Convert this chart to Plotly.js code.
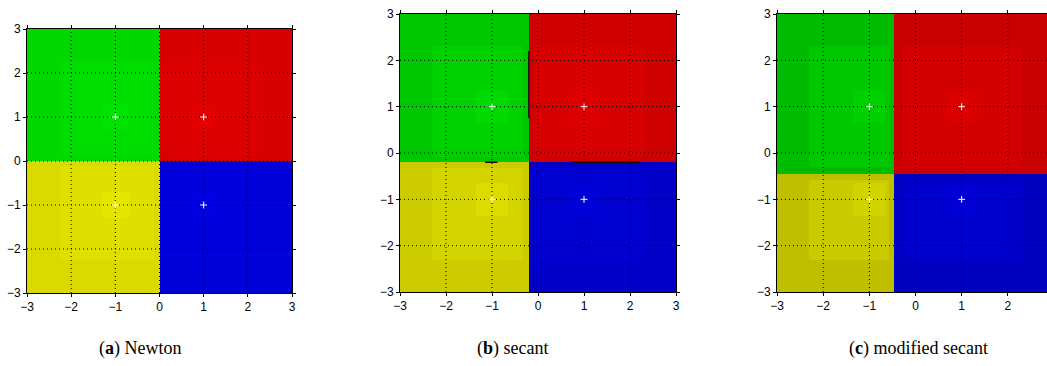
<!DOCTYPE html>
<html>
<head>
<meta charset="utf-8">
<script src="https://cdn.plot.ly/plotly-3.0.1.min.js"></script>
<style>
html,body{margin:0;padding:0;overflow:hidden;background:#fff;}
#chart{width:1060px;height:366px;}
</style>
</head>
<body>
<div id="chart"></div>
<script>
// ---------- data ----------
const methods = ['Newton', 'secant', 'modified secant'];
const panelLetters = ['a', 'b', 'c'];
const tickVals = [-3, -2, -1, 0, 1, 2, 3];
const tickTextFull = ['−3', '−2', '−1', '0', '1', '2', '3'];
const tickTextCut = ['−3', '−2', '−1', '0', '1', '2', ''];   // last label falls outside the picture
const boundaryX = [0, -0.2, -0.46];      // basin boundary (vertical) per method
const boundaryY = [0, -0.2, -0.46];      // basin boundary (horizontal) per method
const rootX = [1, -1, -1, 1];
const rootY = [1, 1, -1, -1];
const basinNames = ['red', 'green', 'yellow', 'blue'];
// shades per method per basin: [edge, mid, near root]
const shadesNewton   = [['#d80000','#dd0000','#e20000'], ['#00d800','#00dd00','#00e200'], ['#dada00','#e0e000','#e5e500'], ['#0000d8','#0000dd','#0000e2']];
const shadesSecant   = [['#cf0000','#d80000','#de0000'], ['#00c800','#00d200','#00da00'], ['#cbcb00','#d4d400','#dcdc00'], ['#0000c8','#0000d0','#0000d8']];
const shadesModified = [['#c80000','#d20000','#da0000'], ['#00bc00','#00c800','#00d000'], ['#bfbf00','#caca00','#d3d300'], ['#0000c0','#0000cb','#0000d4']];
const midHalf = [1.25, 1.3, 1.3];
const innerHalf = [0.3, 0.35, 0.35];
// non-converged segments (secant)
const failSegX = [[], [[-0.2, -0.2], [-1.15, -0.88], [0.75, 2.22]], []];
const failSegY = [[], [[0.75, 2.2], [-0.2, -0.2], [-0.2, -0.2]], []];

// ---------- layout geometry ----------
const W = 1060, H = 366;
const boxes = [[27, 292, 29, 293], [400, 676, 14, 292], [777, 1054, 14, 292]];
const allShades = [shadesNewton, shadesSecant, shadesModified];

function clip(r, q) {
  return [Math.max(r[0], q[0]), Math.min(r[1], q[1]), Math.max(r[2], q[2]), Math.min(r[3], q[3])];
}

const traces = [];
const layout = {
  width: W, height: H,
  margin: {l: 0, r: 0, t: 0, b: 0},
  paper_bgcolor: '#fff', plot_bgcolor: '#fff',
  showlegend: false,
  annotations: []
};

for (let p = 0; p < 3; p++) {
  const bx = boundaryX[p], by = boundaryY[p];
  const quads = [[bx, 3, by, 3], [-3, bx, by, 3], [-3, bx, -3, by], [bx, 3, -3, by]];
  const rects = [];
  const sh = allShades[p];
  for (let k = 0; k < 4; k++) rects.push([...quads[k], sh[k][0]]);
  for (let k = 0; k < 4; k++) {
    const m = midHalf[p];
    const r = clip([rootX[k] - m, rootX[k] + m, rootY[k] - m, rootY[k] + m], quads[k]);
    const q = quads[k];
    const inset = 0.12;
    const rr = [r[0] === q[0] && q[0] !== -3 ? r[0] + inset : r[0], r[1] === q[1] && q[1] !== 3 ? r[1] - inset : r[1],
                r[2] === q[2] && q[2] !== -3 ? r[2] + inset : r[2], r[3] === q[3] && q[3] !== 3 ? r[3] - inset : r[3]];
    rects.push([...rr, sh[k][1]]);
  }
  for (let k = 0; k < 4; k++) {
    const m = innerHalf[p];
    const r = clip([rootX[k] - m, rootX[k] + m, rootY[k] - m, rootY[k] + m], quads[k]);
    rects.push([...r, sh[k][2]]);
  }
  const xs = [...new Set(rects.flatMap(r => [r[0], r[1]]))].sort((a, b) => a - b);
  const ys = [...new Set(rects.flatMap(r => [r[2], r[3]]))].sort((a, b) => a - b);
  const colors = [...new Set(rects.map(r => r[4]))];
  const z = [];
  for (let j = 0; j < ys.length - 1; j++) {
    const row = [];
    const cy = (ys[j] + ys[j + 1]) / 2;
    for (let i = 0; i < xs.length - 1; i++) {
      const cx = (xs[i] + xs[i + 1]) / 2;
      let c = null;
      for (const r of rects) if (cx >= r[0] && cx <= r[1] && cy >= r[2] && cy <= r[3]) c = r[4];
      row.push(colors.indexOf(c));
    }
    z.push(row);
  }
  const cs = colors.map((c, i) => [colors.length > 1 ? i / (colors.length - 1) : 0, c]);
  const xa = 'x' + (p ? p + 1 : ''), ya = 'y' + (p ? p + 1 : '');
  traces.push({type: 'heatmap', x: xs, y: ys, z: z, colorscale: cs, zmin: 0, zmax: colors.length - 1,
               showscale: false, zsmooth: false, hoverinfo: 'skip', xaxis: xa, yaxis: ya});
  // dotted grid lines from tick values
  const inner = tickVals.slice(1, -1);
  const gx = [], gy = [];
  for (const t of inner) { gx.push(t, t, null); gy.push(-3, 3, null); }
  for (const t of inner) { gx.push(-3, 3, null); gy.push(t, t, null); }
  traces.push({type: 'scatter', mode: 'lines', x: gx, y: gy, xaxis: xa, yaxis: ya, hoverinfo: 'skip',
               line: {color: '#000', width: 1, dash: '1px,3px'}});
  // non-converged segments
  for (let s = 0; s < failSegX[p].length; s++) {
    traces.push({type: 'scatter', mode: 'lines', x: failSegX[p][s], y: failSegY[p][s], xaxis: xa, yaxis: ya,
                 hoverinfo: 'skip', line: {color: '#111', width: 1.5}});
  }
  // roots
  traces.push({type: 'scatter', mode: 'markers', x: rootX, y: rootY, xaxis: xa, yaxis: ya, hoverinfo: 'skip',
               marker: {symbol: 'cross-thin-open', size: 5, color: '#ffffff', line: {color: '#ffffff', width: 1}}});

  const b = boxes[p];
  const axCommon = {
    range: [-3, 3], tickvals: tickVals, showgrid: false, zeroline: false,
    showline: true, linecolor: '#000', linewidth: 1, mirror: 'ticks',
    ticks: 'outside', ticklen: 3, tickwidth: 1, tickcolor: '#000',
    tickfont: {family: 'Liberation Sans, Arial, sans-serif', size: 12, color: '#000'},
    fixedrange: true, layer: 'above traces'
  };
  layout['xaxis' + (p ? p + 1 : '')] = Object.assign({}, axCommon, {
    domain: [b[0] / W, b[1] / W], anchor: ya, ticktext: p === 2 ? tickTextCut : tickTextFull
  });
  layout['yaxis' + (p ? p + 1 : '')] = Object.assign({}, axCommon, {
    domain: [1 - b[3] / H, 1 - b[2] / H], anchor: xa, ticktext: tickTextFull
  });
}

const captionLeft = [97, 475, 847];
for (let p = 0; p < 3; p++) {
  layout.annotations.push({
    xref: 'paper', yref: 'paper', x: captionLeft[p] / W, y: 1 - 348 / H,
    xanchor: 'left', yanchor: 'middle', showarrow: false,
    text: '(<b>' + panelLetters[p] + '</b>) ' + methods[p],
    font: {family: 'Liberation Serif, DejaVu Serif, serif', size: 18, color: '#000'}
  });
}

Plotly.newPlot('chart', traces, layout, {staticPlot: true, displayModeBar: false});
</script>
</body>
</html>
